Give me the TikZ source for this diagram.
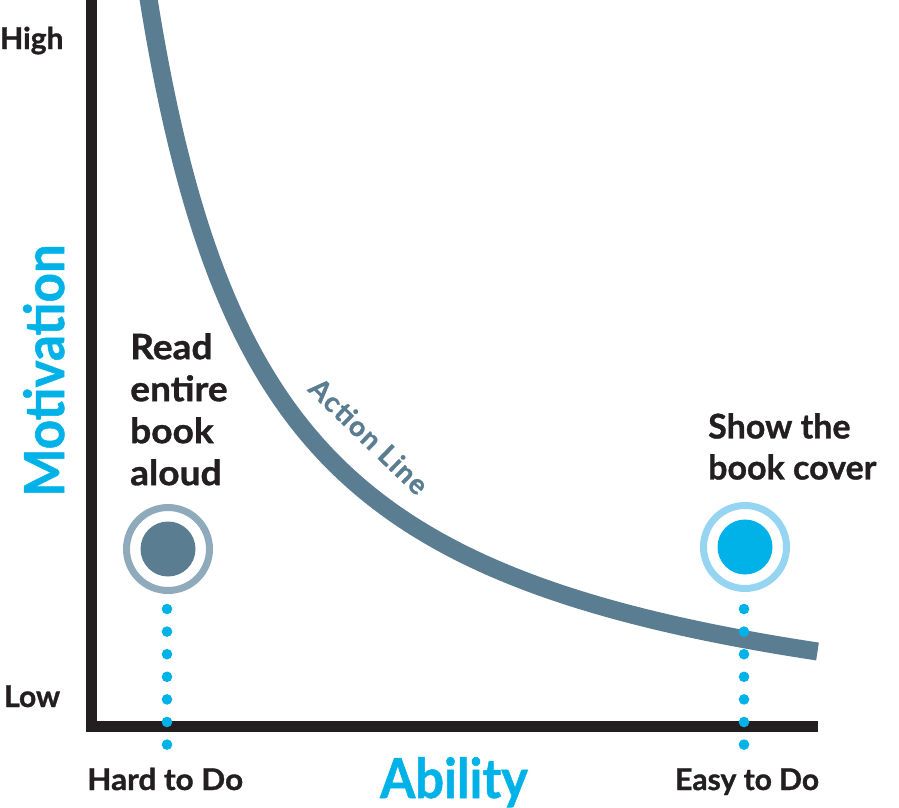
\documentclass[tikz,border=0pt]{standalone}
\usepackage{fontspec}
\setmainfont{Lato}
\newcommand{\heavy}{\bfseries\addfontfeature{FakeBold=1}}
\begin{document}
\begin{tikzpicture}[x=1pt,y=-1pt,
  axis/.style={line width=11pt, draw=axisblack},
  actionline/.style={line width=18pt, draw=slate},
  ring/.style={circle, minimum size=83pt, inner sep=0pt, line width=7pt},
  disc/.style={circle, minimum size=55pt, inner sep=0pt},
  dotline/.style={draw=cyanA, line width=10.6pt, line cap=round, dash pattern=on 0pt off 22.6pt},
  ticklabel/.style={inner sep=0pt, font=\fontsize{30}{34}\selectfont\heavy, text=axisblack},
  axistitle/.style={inner sep=0pt, font=\fontsize{55}{60}\selectfont\heavy, text=cyanA},
  tasklabel/.style={inner sep=0pt, align=left, font=\fontsize{35}{42}\selectfont\heavy, text=axisblack}
]
\definecolor{axisblack}{HTML}{231F20}
\definecolor{slate}{HTML}{5A7D92}
\definecolor{slatering}{HTML}{8FAABB}
\definecolor{cyanA}{HTML}{00B2E8}
\definecolor{cyanring}{HTML}{96D5F2}

\useasboundingbox (0,0) rectangle (899,808);
\clip (0,0) rectangle (899,808);

% axes
\coordinate (ytop) at (91.5,-2);
\coordinate (origin) at (91.5,726.5);
\coordinate (xend) at (817.5,726.5);
\draw[axis] (ytop) -- (origin) -- (xend);

% action line: hyperbola x = 25 + 95500/(772 - y)
\draw[actionline] plot[smooth, samples=300, domain=145:817.5, variable=\u]
  ({\u}, {772 - 955/((\u-25)/100)});
\node[rotate=-44, inner sep=0pt, text=slate,
  font=\fontsize{28}{30}\selectfont\heavy\addfontfeature{LetterSpace=5}]
  (actlabel) at (369,436) {Action Line};

% the two tasks
\node[ring, draw=slatering] (hard) at (168,549) {};
\node[disc, fill=slate] (harddot) at (hard.center) {};
\node[ring, draw=cyanring] (easy) at (745,547) {};
\node[disc, fill=cyanA] (easydot) at (easy.center) {};

\coordinate (hardbase) at (167,745);
\coordinate (easybase) at (744,745);
\draw[dotline] ([xshift=-1pt,yshift=-15pt]hard.south) -- (hardbase);
\draw[dotline] ([xshift=-1pt,yshift=-17pt]easy.south) -- (easybase);

\node[tasklabel, anchor=north west, xscale=1.06] (hardtext) at (130,333) {Read\\entire\\book\\aloud};
\node[tasklabel, anchor=north west, font=\fontsize{34}{41}\selectfont\heavy] (easytext) at (708,413) {Show the\\book cover};

% axis labels
\node[ticklabel, anchor=base west] (high) at (0,49) {High};
\node[ticklabel, anchor=base west] (low) at (4,707) {Low};
\node[ticklabel, anchor=base west, xscale=1.05] (hardlbl) at (87,790) {Hard to Do};
\node[ticklabel, anchor=base west] (easylbl) at (675,790) {Easy to Do};
\node[axistitle, anchor=base west, xscale=0.92] (ability) at (380,798) {Ability};
\node[axistitle, anchor=base west, rotate=90, xscale=0.93] (motivation) at (64,497) {Motivation};
\end{tikzpicture}
\end{document}
